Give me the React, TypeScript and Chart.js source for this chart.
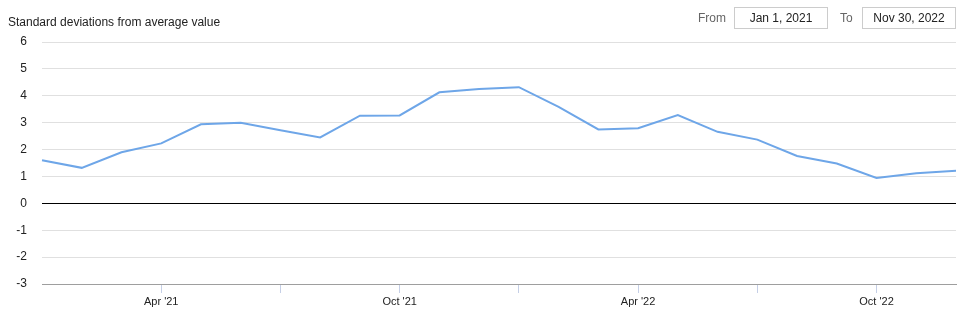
import React, { useEffect, useRef } from "react";
import { Chart, registerables } from "chart.js";

Chart.register(...registerables);

const months = [
  "Jan '21", "Feb '21", "Mar '21", "Apr '21", "May '21", "Jun '21",
  "Jul '21", "Aug '21", "Sep '21", "Oct '21", "Nov '21", "Dec '21",
  "Jan '22", "Feb '22", "Mar '22", "Apr '22", "May '22", "Jun '22",
  "Jul '22", "Aug '22", "Sep '22", "Oct '22", "Nov '22", "Dec '22",
];

const stdDevValues = [
  1.6, 1.32, 1.9, 2.23, 2.94, 3.0, 2.72, 2.45, 3.26, 3.27, 4.13, 4.25,
  4.32, 3.59, 2.75, 2.79, 3.28, 2.66, 2.37, 1.76, 1.48, 0.94, 1.12, 1.21,
];

const shownTickLabels = ["Apr '21", "Oct '21", "Apr '22", "Oct '22"];
const tickMarkMonths = ["Jan", "Apr", "Jul", "Oct"];

const yMin = -3;
const yMax = 6;

const titleText = "Standard deviations from average value";
const fromDate = "Jan 1, 2021";
const toDate = "Nov 30, 2022";

const FONT = "'Liberation Sans', Arial, sans-serif";

export default function App() {
  const canvasRef = useRef<HTMLCanvasElement | null>(null);

  useEffect(() => {
    if (!canvasRef.current) return;
    const chart = new Chart(canvasRef.current, {
      type: "line",
      data: {
        labels: months,
        datasets: [
          {
            data: stdDevValues,
            borderColor: "#6ea6e8",
            borderWidth: 2,
            pointRadius: 0,
            tension: 0,
            fill: false,
          },
        ],
      },
      options: {
        animation: false,
        responsive: false,
        devicePixelRatio: 1,
        layout: { padding: { top: 42, right: 10, left: 0, bottom: 0 } },
        plugins: { legend: { display: false }, tooltip: { enabled: false } },
        scales: {
          x: {
            type: "category",
            offset: false,
            afterFit: (scale: any) => {
              scale.height = 30;
            },
            border: { display: true, color: "#9e9e9e", width: 1 },
            grid: {
              drawOnChartArea: false,
              drawTicks: true,
              tickLength: 9,
              color: (ctx: any) => {
                const lbl = months[ctx.index] || "";
                if (ctx.index === 0) return "rgba(0,0,0,0)";
                return tickMarkMonths.some((m) => lbl.startsWith(m))
                  ? "#c5cfe6"
                  : "rgba(0,0,0,0)";
              },
            },
            ticks: {
              autoSkip: false,
              maxRotation: 0,
              padding: 2,
              color: "#222222",
              font: { family: FONT, size: 11 },
              callback: (_v: any, i: number) =>
                shownTickLabels.includes(months[i]) ? months[i] : "",
            },
          },
          y: {
            min: yMin,
            max: yMax,
            afterFit: (scale: any) => {
              scale.width = 42;
            },
            border: { display: false },
            grid: {
              drawTicks: false,
              lineWidth: 1,
              color: (ctx: any) => {
                const v = ctx.tick ? ctx.tick.value : null;
                if (v === 0) return "#000000";
                if (v === yMin) return "#9e9e9e";
                return "#e0e0e0";
              },
            },
            ticks: {
              stepSize: 1,
              padding: 15,
              color: "#222222",
              font: { family: FONT, size: 12 },
            },
          },
        },
      },
    });
    return () => chart.destroy();
  }, []);

  const boxStyle: React.CSSProperties = {
    position: "absolute",
    top: 7,
    height: 22,
    width: 94,
    boxSizing: "border-box",
    border: "1px solid #cccccc",
    fontFamily: FONT,
    fontSize: 12,
    color: "#222222",
    display: "flex",
    alignItems: "center",
    justifyContent: "center",
  };
  const labelStyle: React.CSSProperties = {
    position: "absolute",
    top: 7,
    height: 22,
    lineHeight: "22px",
    fontFamily: FONT,
    fontSize: 12,
    color: "#666666",
  };

  return (
    <div
      style={{
        position: "fixed",
        left: 0,
        top: 0,
        width: 966,
        height: 314,
        background: "#ffffff",
        overflow: "hidden",
      }}
    >
      <canvas
        ref={canvasRef}
        width={966}
        height={314}
        style={{ position: "absolute", left: 0, top: 0, width: 966, height: 314 }}
      />
      <div
        style={{
          position: "absolute",
          left: 8,
          top: 15,
          fontFamily: FONT,
          fontSize: 12,
          color: "#222222",
          whiteSpace: "nowrap",
        }}
      >
        {titleText}
      </div>
      <div style={{ ...labelStyle, left: 698 }}>From</div>
      <div style={{ ...boxStyle, left: 734 }}>{fromDate}</div>
      <div style={{ ...labelStyle, left: 840 }}>To</div>
      <div style={{ ...boxStyle, left: 862 }}>{toDate}</div>
    </div>
  );
}
